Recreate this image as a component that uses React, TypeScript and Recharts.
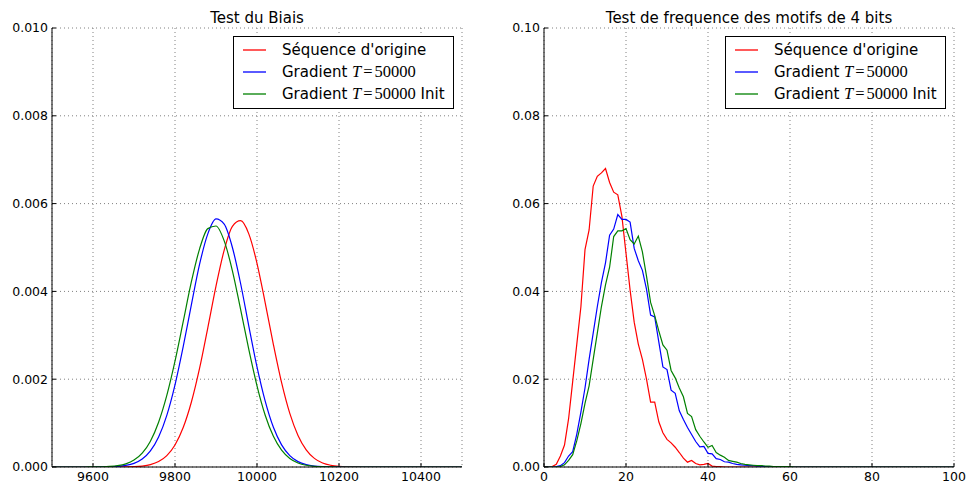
import React from 'react';
import { LineChart, Line, XAxis, YAxis, CartesianGrid } from 'recharts';

// ---------- Left panel: Test du Biais ----------
const biasX = [
  9500, 9520, 9540, 9560, 9580, 9600, 9620, 9640, 9660, 9680,
  9700, 9720, 9740, 9760, 9780, 9800, 9820, 9840, 9860, 9880,
  9900, 9920, 9940, 9960, 9980, 10000, 10020, 10040, 10060, 10080,
  10100, 10120, 10140, 10160, 10180, 10200, 10220, 10240, 10260, 10280,
  10300, 10320, 10340, 10360, 10380, 10400, 10420, 10440, 10460, 10480,
  10500,
];
const biasOrig = [
  0, 0, 0, 0, 0, 0, 0, 0, 0.000001, 0.000003,
  0.000008, 0.000022, 0.000055, 0.000124, 0.00026, 0.000502, 0.000898, 0.00148, 0.00225, 0.00317,
  0.00412, 0.00494, 0.00548, 0.00561, 0.00531, 0.00464, 0.00374, 0.00279, 0.00192, 0.00122,
  0.00072, 0.00039, 0.000196, 0.00009, 0.000039, 0.000015, 0.000005, 0.000002, 0, 0,
  0, 0, 0, 0, 0, 0, 0, 0, 0, 0,
  0,
];
const biasGrad = [
  0, 0, 0, 0, 0, 0.0000005, 0.0000016, 0.0000048, 0.0000135, 0.000035,
  0.0000825, 0.000181, 0.000366, 0.000683, 0.001176, 0.00187, 0.00274, 0.0037, 0.00462, 0.00531,
  0.00565, 0.00553, 0.005, 0.00418, 0.00321, 0.00228, 0.0015, 0.000904, 0.000505, 0.00026,
  0.000123, 0.000054, 0.000022, 0.0000082, 0.000003, 0.000001, 0, 0, 0, 0,
  0, 0, 0, 0, 0, 0, 0, 0, 0, 0,
  0,
];
const biasGradInit = [
  0, 0, 0, 0, 0.0000005, 0.0000015, 0.0000044, 0.000012, 0.0000307, 0.000072,
  0.000157, 0.000315, 0.000588, 0.00102, 0.00163, 0.00241, 0.00331, 0.00422, 0.00497, 0.00543,
  0.00549, 0.00515, 0.00447, 0.00359, 0.00268, 0.00185, 0.00118, 0.000699, 0.000383, 0.000195,
  0.000092, 0.00004, 0.000016, 0.000006, 0.000002, 0, 0, 0, 0, 0,
  0, 0, 0, 0, 0, 0, 0, 0, 0, 0,
  0,
];
const biasXTicks = [9600, 9800, 10000, 10200, 10400];
const biasYTicks = [0, 0.002, 0.004, 0.006, 0.008, 0.01];

// ---------- Right panel: frequence des motifs de 4 bits ----------
const motifX = [
  0, 1, 2, 3, 4, 5, 6, 7, 8, 9,
  10, 11, 12, 13, 14, 15, 16, 17, 18, 19,
  20, 21, 22, 23, 24, 25, 26, 27, 28, 29,
  30, 31, 32, 33, 34, 35, 36, 37, 38, 39,
  40, 41, 42, 43, 44, 45, 46, 47, 48, 49,
  50, 51, 52, 53, 54, 55, 56, 57, 58, 59,
  60, 61, 62, 63, 64, 65, 66, 67, 68, 69,
  70, 71, 72, 73, 74, 75, 76, 77, 78, 79,
  80, 81, 82, 83, 84, 85, 86, 87, 88, 89,
  90, 91, 92, 93, 94, 95, 96, 97, 98, 99,
  100,
];
const motifOrig = [
  0, 0, 0.0001, 0.0006, 0.0025, 0.005, 0.011, 0.0195, 0.028, 0.0365,
  0.0495, 0.054, 0.064, 0.0662, 0.067, 0.068, 0.0648, 0.0626, 0.062, 0.0571,
  0.0487, 0.0403, 0.033, 0.028, 0.0245, 0.02, 0.0148, 0.0148, 0.0103, 0.0078,
  0.0063, 0.0055, 0.0045, 0.0033, 0.002, 0.0011, 0.0015, 0.0008, 0.0005, 0.0006,
  0.0008, 0.0002, 0.0001, 0.0001, 0, 0, 0, 0, 0, 0,
  0, 0, 0, 0, 0, 0, 0, 0, 0, 0,
  0, 0, 0, 0, 0, 0, 0, 0, 0, 0,
  0, 0, 0, 0, 0, 0, 0, 0, 0, 0,
  0, 0, 0, 0, 0, 0, 0, 0, 0, 0,
  0, 0, 0, 0, 0, 0, 0, 0, 0, 0,
  0,
];
const motifGrad = [
  0, 0, 0, 0.0001, 0.0003, 0.001, 0.0025, 0.0035, 0.0075, 0.0125,
  0.018, 0.0245, 0.0305, 0.0365, 0.042, 0.0465, 0.0528, 0.0542, 0.0575, 0.0564,
  0.0564, 0.0558, 0.0498, 0.047, 0.0448, 0.0405, 0.0346, 0.0342, 0.0285, 0.0228,
  0.0222, 0.0175, 0.0168, 0.0128, 0.0108, 0.009, 0.0074, 0.0058, 0.0046, 0.0047,
  0.0031, 0.003, 0.0019, 0.0017, 0.0012, 0.0011, 0.0008, 0.0006, 0.0005, 0.0004,
  0.0003, 0.0003, 0.0002, 0.0002, 0.0001, 0.0001, 0.0001, 0, 0, 0,
  0, 0, 0, 0, 0, 0, 0, 0, 0, 0,
  0, 0, 0, 0, 0, 0, 0, 0, 0, 0,
  0, 0, 0, 0, 0, 0, 0, 0, 0, 0,
  0, 0, 0, 0, 0, 0, 0, 0, 0, 0,
  0,
];
const motifGradInit = [
  0, 0, 0, 0, 0.0001, 0.0005, 0.0015, 0.0028, 0.006, 0.0099,
  0.0145, 0.0185, 0.0245, 0.0305, 0.0365, 0.0415, 0.0455, 0.0525, 0.0538, 0.0538,
  0.0543, 0.0518, 0.0508, 0.0526, 0.049, 0.0435, 0.0375, 0.0345, 0.031, 0.0278,
  0.0266, 0.022, 0.0203, 0.018, 0.016, 0.0122, 0.0115, 0.0085, 0.007, 0.0057,
  0.0045, 0.0049, 0.0033, 0.0027, 0.0022, 0.0015, 0.0013, 0.0011, 0.0008, 0.0006,
  0.0005, 0.0004, 0.0003, 0.0003, 0.0002, 0.0002, 0.0001, 0.0001, 0.0001, 0.0001,
  0.0001, 0, 0, 0, 0, 0, 0, 0, 0, 0,
  0, 0, 0, 0, 0, 0, 0, 0, 0, 0,
  0, 0, 0, 0, 0, 0, 0, 0, 0, 0,
  0, 0, 0, 0, 0, 0, 0, 0, 0, 0,
  0,
];
const motifXTicks = [0, 20, 40, 60, 80, 100];
const motifYTicks = [0, 0.02, 0.04, 0.06, 0.08, 0.1];

const seriesColors = { orig: '#ff0000', grad: '#0000ff', init: '#008000' };

const biasData = biasX.map((x, i) => ({ x, orig: biasOrig[i], grad: biasGrad[i], init: biasGradInit[i] }));
const motifData = motifX.map((x, i) => ({ x, orig: motifOrig[i], grad: motifGrad[i], init: motifGradInit[i] }));

const SANS = '"DejaVu Sans", sans-serif';
const SERIF = '"Liberation Serif", "DejaVu Serif", serif';
const tickStyle = { fill: '#000', fontSize: 12.5, fontFamily: SANS };

const MathT = () => (
  <span style={{ fontFamily: SERIF, fontSize: 16.5 }}>
    <i>T</i>
    <span style={{ margin: '0 2px' }}>=</span>
    50000
  </span>
);

const LegendBox = ({ left }: { left: number }) => {
  const rows = [
    { color: seriesColors.orig, label: <span>Séquence d'origine</span> },
    { color: seriesColors.grad, label: <span>Gradient <MathT /></span> },
    { color: seriesColors.init, label: <span>Gradient <MathT /> Init</span> },
  ];
  return (
    <div
      style={{
        position: 'absolute', left, top: 36, width: 221, height: 73,
        border: '1px solid #000', background: '#fff', boxSizing: 'border-box',
        fontFamily: SANS, fontSize: 15, color: '#000',
      }}
    >
      {rows.map((r, i) => (
        <div
          key={i}
          style={{
            position: 'absolute', left: 0, top: 1.5 + i * 22.3, height: 22,
            display: 'flex', alignItems: 'center', whiteSpace: 'nowrap',
          }}
        >
          <svg width={23} height={4} style={{ marginLeft: 9, display: 'block' }}>
            <line x1={0} y1={2} x2={23} y2={2} stroke={r.color} strokeWidth={1.3} />
          </svg>
          <span style={{ marginLeft: 16 }}>{r.label}</span>
        </div>
      ))}
    </div>
  );
};

type PanelProps = {
  left: number;
  title: string;
  data: any[];
  xDomain: [number, number];
  xTicks: number[];
  yDomain: [number, number];
  yTicks: number[];
  digits: number;
  curve: 'monotone' | 'linear';
};

const Panel = ({ left, title, data, xDomain, xTicks, yDomain, yTicks, digits, curve }: PanelProps) => (
  <div style={{ position: 'absolute', left, top: 0, width: 480, height: 483 }}>
    <LineChart width={480} height={483} data={data} margin={{ top: 28, right: 18, bottom: 0, left: 0 }}>
      <CartesianGrid stroke="#808080" strokeDasharray="1 3" strokeWidth={1} />
      <XAxis
        dataKey="x" type="number" domain={xDomain} ticks={xTicks} allowDataOverflow
        height={16} tickSize={-4} tickMargin={9} tick={tickStyle}
        axisLine={{ stroke: '#000' }} tickLine={{ stroke: '#000' }}
      />
      <XAxis
        xAxisId="top" orientation="top" type="number" domain={xDomain} ticks={xTicks} allowDataOverflow
        height={0} tickSize={-4} tick={false}
        axisLine={{ stroke: '#000' }} tickLine={{ stroke: '#000' }}
      />
      <YAxis
        type="number" domain={yDomain} ticks={yTicks} allowDataOverflow
        width={52} tickSize={-4} tickMargin={8} tick={tickStyle}
        tickFormatter={(v: number) => v.toFixed(digits)}
        axisLine={{ stroke: '#000' }} tickLine={{ stroke: '#000' }}
      />
      <YAxis
        yAxisId="right" orientation="right" type="number" domain={yDomain} ticks={yTicks} allowDataOverflow
        width={0} tickSize={-4} tick={false}
        axisLine={{ stroke: '#000' }} tickLine={{ stroke: '#000' }}
      />
      <Line type={curve} dataKey="orig" stroke={seriesColors.orig} strokeWidth={1.2} dot={false} isAnimationActive={false} />
      <Line type={curve} dataKey="grad" stroke={seriesColors.grad} strokeWidth={1.2} dot={false} isAnimationActive={false} />
      <Line type={curve} dataKey="init" stroke={seriesColors.init} strokeWidth={1.2} dot={false} isAnimationActive={false} />
    </LineChart>
    <div
      style={{
        position: 'absolute', left: 52, top: 9, width: 410, textAlign: 'center',
        fontFamily: SANS, fontSize: 15, color: '#000', whiteSpace: 'nowrap',
      }}
    >
      {title}
    </div>
    <LegendBox left={233} />
  </div>
);

export default function App() {
  return (
    <div style={{ position: 'absolute', left: 0, top: 0, width: 968, height: 483, background: '#fff', overflow: 'hidden' }}>
      <Panel
        left={0} title="Test du Biais" data={biasData}
        xDomain={[9500, 10500]} xTicks={biasXTicks}
        yDomain={[0, 0.01]} yTicks={biasYTicks} digits={3} curve="monotone"
      />
      <Panel
        left={492} title="Test de frequence des motifs de 4 bits" data={motifData}
        xDomain={[0, 100]} xTicks={motifXTicks}
        yDomain={[0, 0.1]} yTicks={motifYTicks} digits={2} curve="linear"
      />
    </div>
  );
}
